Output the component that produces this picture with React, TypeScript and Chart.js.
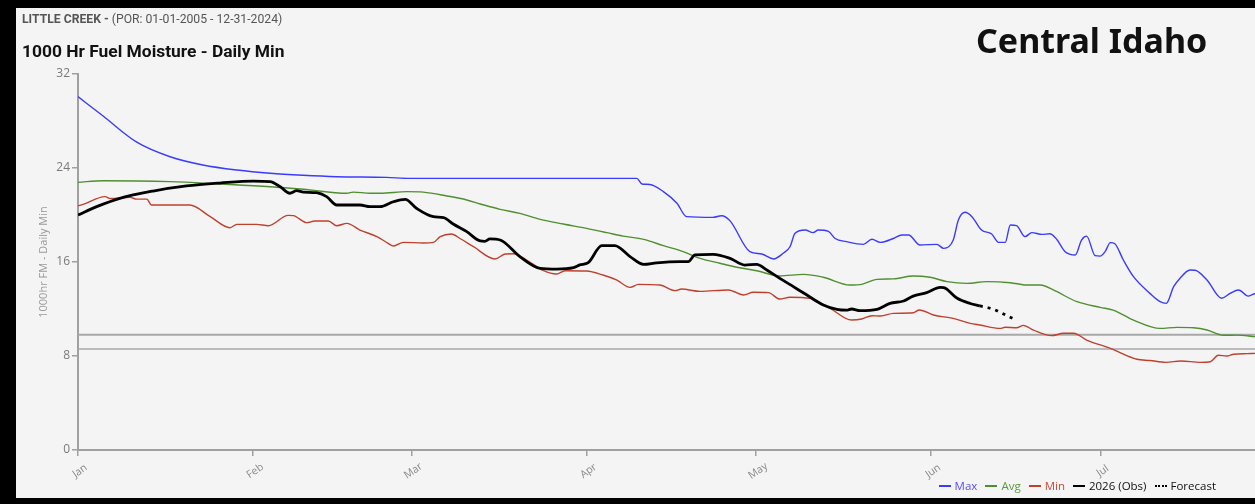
import React, { useEffect, useRef } from 'react';
import { Chart, registerables } from 'chart.js';

Chart.register(...registerables);

// ---- data (x = day of year, Jan 1 = 0) ----
const monthStarts = [0, 31, 59, 90, 120, 151, 181];
const monthLabels = ['Jan', 'Feb', 'Mar', 'Apr', 'May', 'Jun', 'Jul'];
const yTicks = [0, 8, 16, 24, 32];
const xMax = 208.3;
const refLineHigh = 9.8;
const refLineLow = 8.6;

const maxSeries: [number, number][] = [
  [0, 30.07], [4.5, 28.4], [10.4, 26.2], [16.3, 24.96], [22.1, 24.26], [28.1, 23.83], [34, 23.55],
  [39.8, 23.38], [45.8, 23.26], [54.6, 23.2], [58.8, 23.12], [98.9, 23.12], [99.8, 22.64], [101.2, 22.6],
  [103.6, 21.99], [106, 21.0], [107.7, 19.86], [112.4, 19.8], [113.9, 19.94], [115.4, 19.5], [118.9, 16.88],
  [121, 16.68], [123.1, 16.26], [124.8, 16.74], [126, 17.3], [126.9, 18.44], [128.7, 18.72], [130.1, 18.5],
  [131, 18.72], [132.8, 18.6], [134, 18.0], [136, 17.73], [139, 17.5], [140.5, 17.93], [142, 17.67],
  [144.3, 18.0], [145.8, 18.3], [147, 18.3], [149, 17.45], [152, 17.5], [153.2, 17.16], [154.9, 17.87],
  [155.8, 19.57], [157, 20.23], [158.2, 19.86], [159.9, 18.72], [161.7, 18.38], [162.9, 17.67], [164.1, 17.67],
  [165, 19.15], [166.1, 19.1], [167.6, 18.16], [168.8, 18.5], [170.6, 18.35], [172, 18.4], [173.2, 17.93],
  [174.7, 16.88], [176.5, 16.6], [177.6, 17.87], [178.5, 18.2], [180, 16.54], [180.9, 16.5], [181.8, 16.9],
  [182.7, 17.65], [183.5, 17.55], [185, 16.17], [186.8, 14.75], [189.7, 13.33], [191.5, 12.62], [192.6, 12.48],
  [193.9, 13.9], [195, 14.6], [196.8, 15.32], [197.7, 15.3], [199.8, 14.47], [202.4, 12.91], [203.9, 13.33],
  [205.4, 13.62], [207.1, 13.1], [208.3, 13.33],
];

const avgSeries: [number, number][] = [
  [0, 22.78], [4.5, 22.92], [16.3, 22.84], [25.1, 22.64], [34, 22.41], [39.9, 22.19], [47.6, 21.85],
  [48.7, 21.95], [51.7, 21.85], [53.5, 21.85], [58.2, 21.99], [61.1, 21.95], [65.3, 21.62], [68.8, 21.28],
  [71.2, 20.94], [74.7, 20.48], [78.2, 20.14], [81.8, 19.63], [85.9, 19.23], [90, 18.86], [93.6, 18.5],
  [96.5, 18.2], [100.1, 17.93], [103.6, 17.39], [107.1, 16.88], [110.1, 16.31], [113.6, 15.89], [116.6, 15.55],
  [120.1, 15.26], [124.2, 14.81], [128.4, 14.95], [131.9, 14.7], [136.6, 14.04], [138.7, 14.1], [141.4, 14.52],
  [144.3, 14.56], [147.8, 14.81], [150.8, 14.7], [153.8, 14.33], [157.3, 14.18], [160.8, 14.33], [165, 14.24],
  [167.9, 14.04], [170.3, 14.04], [172.6, 13.62], [176.8, 12.62], [180.9, 12.14], [183.2, 11.91], [186.8, 11.06],
  [191.5, 10.35], [194.5, 10.44], [197.4, 10.4], [199.8, 10.21], [202.7, 9.76], [205.1, 9.78], [208.3, 9.65],
];

const minSeries: [number, number][] = [
  [0, 20.77], [0.9, 20.9], [4.8, 21.56], [5.7, 21.4], [9.2, 21.5], [10.4, 21.35], [12.2, 21.35], [13, 20.85],
  [19.8, 20.85], [23.4, 19.86], [26.9, 18.92], [28.1, 19.2], [31.6, 19.2], [33.7, 19.09], [37.2, 19.97],
  [38.1, 19.95], [40.5, 19.35], [41.9, 19.49], [44.3, 19.49], [45.8, 19.09], [47.6, 19.29], [49.9, 18.72],
  [52.9, 18.16], [54.9, 17.59], [55.8, 17.36], [57.6, 17.67], [61.1, 17.62], [62.9, 17.67], [64.1, 18.16],
  [66.1, 18.38], [67.6, 18.0], [70, 17.3], [73.8, 16.26], [75.6, 16.68], [77, 16.7], [79.4, 16.17],
  [82.4, 15.26], [84.7, 14.98], [86.2, 15.26], [90, 15.23], [92.9, 14.89], [95.3, 14.47], [97.7, 13.84],
  [99.2, 14.1], [103, 14.04], [105.7, 13.56], [106.8, 13.7], [110.1, 13.5], [115.1, 13.62], [117.8, 13.19],
  [119.5, 13.42], [122.2, 13.39], [124.2, 12.85], [126, 13.0], [129.6, 12.9], [133.1, 12.06], [136.9, 11.06],
  [138.7, 11.15], [140.5, 11.43], [142, 11.4], [144.3, 11.63], [147.8, 11.68], [148.9, 11.91], [151.4, 11.49],
  [154.9, 11.2], [157.9, 10.78], [159.6, 10.64], [163.2, 10.35], [164.1, 10.45], [166.1, 10.4], [167.3, 10.61],
  [169.1, 10.2], [172.3, 9.73], [174.4, 9.93], [176.2, 9.93], [178.5, 9.36], [182.7, 8.65], [187.4, 7.72],
  [189.7, 7.62], [192.5, 7.46], [195.2, 7.58], [198.6, 7.46], [200.4, 7.51], [201.8, 8.06], [203.3, 8.0],
  [204.5, 8.15], [206.9, 8.2], [208.3, 8.22],
];

const obsSeries: [number, number][] = [
  [0, 20.0], [3.3, 20.71], [7.4, 21.42], [13.3, 22.04], [19.2, 22.47], [25.1, 22.72], [31, 22.89],
  [34, 22.84], [35.8, 22.4], [37.5, 21.85], [38.7, 22.07], [39.9, 21.95], [42.2, 21.9], [44, 21.56],
  [45.8, 20.85], [47.6, 20.85], [49.9, 20.85], [51.7, 20.71], [53.5, 20.71], [55.8, 21.13], [57.9, 21.33],
  [59.9, 20.57], [62.9, 19.86], [64.7, 19.78], [66.4, 19.23], [68.8, 18.58], [71.2, 17.79], [72, 17.76],
  [72.9, 17.96], [74.7, 17.87], [78.2, 16.46], [81.8, 15.46], [84.7, 15.4], [87.7, 15.52], [88.8, 15.75],
  [90.3, 15.94], [92.7, 17.39], [95, 17.39], [97.7, 16.46], [100.1, 15.8], [102.4, 15.93], [106.5, 16.03],
  [108, 16.03], [109.2, 16.6], [112.4, 16.65], [115.4, 16.31], [118, 15.74], [120.1, 15.8], [121.9, 15.32],
  [124.2, 14.61], [126.6, 13.9], [129, 13.19], [131.9, 12.34], [134.3, 11.97], [136, 11.9], [136.9, 12.0],
  [138.4, 11.86], [141.4, 11.97], [143.7, 12.48], [146.1, 12.68], [147.8, 13.1], [150.2, 13.39], [152.6, 13.84],
  [153.2, 13.82], [155.6, 12.91], [157.9, 12.47], [159.6, 12.26],
];

const forecastSeries: [number, number][] = [
  [159.6, 12.26], [162, 11.97], [163.8, 11.57], [165.8, 11.12],
];

const legendItems = [
  { label: 'Max', line: '#3b3bff', text: '#5a4cff', dotted: false },
  { label: 'Avg', line: '#4f8f2f', text: '#5a9a3a', dotted: false },
  { label: 'Min', line: '#c0402e', text: '#c84a3a', dotted: false },
  { label: '2026 (Obs)', line: '#000000', text: '#111111', dotted: false },
  { label: 'Forecast', line: '#000000', text: '#111111', dotted: true },
];

const toPts = (s: [number, number][]) => s.map(([x, y]) => ({ x, y }));

const xLabelPlugin = {
  id: 'xMonthLabels',
  afterDraw(chart: any) {
    const xs = chart.scales.x;
    const ctx = chart.ctx;
    ctx.save();
    ctx.font = '10.5px "Open Sans"';
    ctx.fillStyle = '#8a8a8a';
    ctx.textAlign = 'center';
    ctx.textBaseline = 'middle';
    monthStarts.forEach((d, i) => {
      const x = xs.getPixelForValue(d);
      ctx.save();
      ctx.translate(x + 2, xs.top + 21);
      ctx.rotate((-35 * Math.PI) / 180);
      ctx.fillText(monthLabels[i], 0, 0);
      ctx.restore();
    });
    ctx.restore();
  },
};

export default function App() {
  const canvasRef = useRef<HTMLCanvasElement | null>(null);

  useEffect(() => {
    document.body.style.margin = '0';
    const canvas = canvasRef.current;
    if (!canvas) return;
    Chart.defaults.font.family = '"Open Sans", sans-serif';
    const axisGray = '#a0a0a0';
    const chart = new Chart(canvas, {
      type: 'line',
      data: {
        datasets: [
          { label: '2026 (Obs)', data: toPts(obsSeries), borderColor: '#000', borderWidth: 2.8 },
          { label: 'Forecast', data: toPts(forecastSeries), borderColor: '#000', borderWidth: 2.8, borderDash: [3, 5] },
          { label: 'Min', data: toPts(minSeries), borderColor: '#c0402e', borderWidth: 1.4 },
          { label: 'Avg', data: toPts(avgSeries), borderColor: '#4f8f2f', borderWidth: 1.4 },
          { label: 'Max', data: toPts(maxSeries), borderColor: '#3b3bff', borderWidth: 1.4 },
          { label: 'ref1', data: [{ x: 0, y: refLineHigh }, { x: xMax, y: refLineHigh }], borderColor: '#a8a8a8', borderWidth: 2, cubicInterpolationMode: 'default', tension: 0 },
          { label: 'ref2', data: [{ x: 0, y: refLineLow }, { x: xMax, y: refLineLow }], borderColor: '#a8a8a8', borderWidth: 1.6, cubicInterpolationMode: 'default', tension: 0 },
        ] as any,
      },
      options: {
        animation: false,
        responsive: false,
        layout: { padding: { top: 66, left: 0, right: 0, bottom: 0 } },
        elements: {
          point: { radius: 0 },
          line: { cubicInterpolationMode: 'monotone', fill: false },
        },
        plugins: {
          legend: { display: false },
          tooltip: { enabled: false },
          title: { display: false },
        },
        scales: {
          x: {
            type: 'linear',
            min: 0,
            max: xMax,
            afterBuildTicks: (s: any) => { s.ticks = monthStarts.map((v) => ({ value: v })); },
            afterFit: (s: any) => { s.height = 48; },
            ticks: { display: false },
            grid: { display: true, drawOnChartArea: false, drawTicks: true, tickLength: 6, color: axisGray, lineWidth: 1.5 },
            border: { display: true, color: axisGray, width: 2 },
          },
          y: {
            type: 'linear',
            min: 0,
            max: 32,
            afterBuildTicks: (s: any) => { s.ticks = yTicks.map((v) => ({ value: v })); },
            afterFit: (s: any) => { s.width = 62; },
            ticks: { color: '#7a7a7a', font: { size: 12 }, padding: 2 },
            grid: { display: true, drawOnChartArea: false, drawTicks: true, tickLength: 6, color: axisGray, lineWidth: 1.5 },
            border: { display: true, color: axisGray, width: 2 },
            title: {
              display: true,
              text: '1000hr FM - Daily Min',
              color: '#9a9a9a',
              font: { size: 11 },
              padding: { top: 21, bottom: 0 },
            },
          },
        },
      } as any,
      plugins: [xLabelPlugin],
    });
    return () => chart.destroy();
  }, []);

  return (
    <div style={{ position: 'relative', width: 1255, height: 504, background: '#000', overflow: 'hidden' }}>
      <div style={{ position: 'absolute', left: 16, top: 8, width: 1239, height: 490, background: '#f4f4f4' }}>
        <canvas ref={canvasRef} width={1239} height={490} style={{ display: 'block', width: 1239, height: 490 }} />
      </div>
      <div style={{ position: 'absolute', left: 22, top: 13, font: '12.2px Roboto', lineHeight: '12px', color: '#555', whiteSpace: 'nowrap' }}>
        <span style={{ fontWeight: 700 }}>LITTLE CREEK - </span>
        <span>(POR: 01-01-2005 - 12-31-2024)</span>
      </div>
      <div style={{ position: 'absolute', left: 22, top: 43, font: 'bold 17.4px Roboto', lineHeight: '16px', color: '#111', whiteSpace: 'nowrap' }}>
        1000 Hr Fuel Moisture - Daily Min
      </div>
      <div style={{ position: 'absolute', left: 976, top: 23, font: 'bold 34px "Noto Sans"', lineHeight: '34px', color: '#111', whiteSpace: 'nowrap' }}>
        Central Idaho
      </div>
      <div style={{ position: 'absolute', right: 39, top: 479, display: 'flex', alignItems: 'center', gap: 8, font: '11.5px "Open Sans"', lineHeight: '14px', whiteSpace: 'nowrap' }}>
        {legendItems.map((it) => (
          <div key={it.label} style={{ display: 'flex', alignItems: 'center', color: it.text }}>
            <span style={{ display: 'inline-block', width: 12, height: 0, borderTop: `2px ${it.dotted ? 'dotted' : 'solid'} ${it.line}`, marginRight: 4 }} />
            <span>{it.label}</span>
          </div>
        ))}
      </div>
    </div>
  );
}
